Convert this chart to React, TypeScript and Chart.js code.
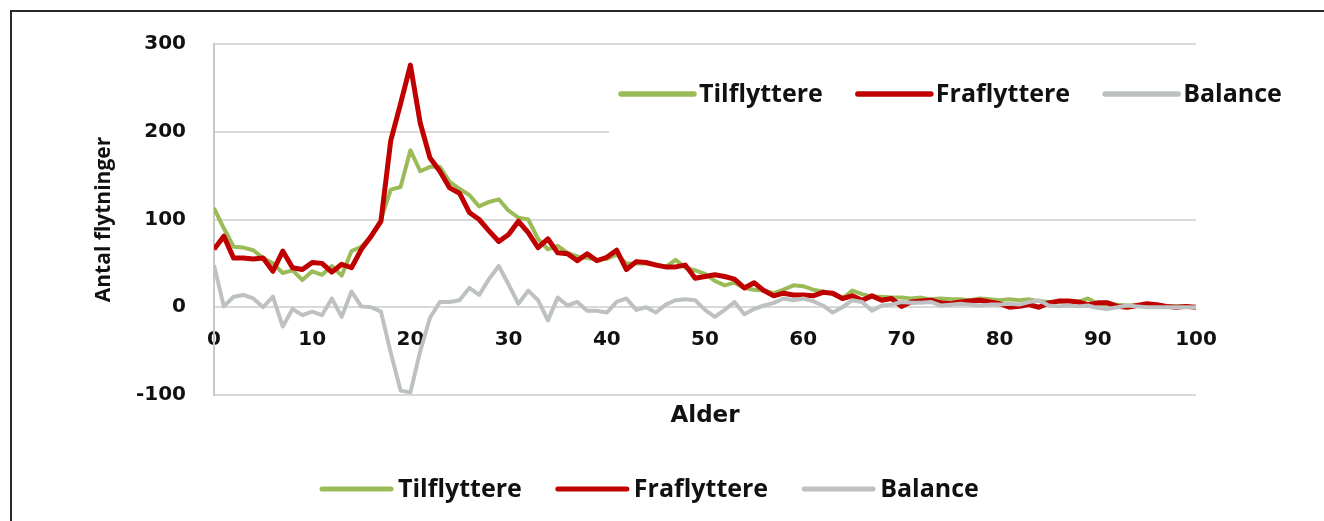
import React, { useEffect, useRef } from "react";
import { Chart, registerables } from "chart.js";

Chart.register(...registerables);

const ages: number[] = Array.from({ length: 101 }, (_, i) => i);

const tilflyttere: number[] = [
  113, 90, 69, 68, 65, 56, 50, 39, 42, 31, 41, 37, 47, 36, 64, 69, 80, 100, 134, 137,
  179, 155, 160, 160, 143, 135, 128, 115, 120, 123, 110, 102, 100, 78, 66, 70, 62, 58, 56, 54,
  55, 60, 50, 50, 50, 49, 46, 54, 45, 42, 38, 30, 25, 28, 22, 20, 19, 16, 20, 25,
  24, 20, 18, 15, 10, 19, 15, 12, 12, 11, 11, 10, 11, 9, 10, 9, 9, 8, 10, 9,
  8, 9, 8, 9, 7, 6, 6, 7, 6, 10, 4, 3, 3, 2, 2, 2, 2, 1, 1, 1, 0,
];

const fraflyttere: number[] = [
  66, 81, 56, 56, 55, 56, 41, 64, 45, 43, 51, 50, 40, 49, 45, 66, 81, 98, 190, 232,
  276, 210, 170, 155, 136, 130, 108, 100, 87, 75, 83, 98, 85, 68, 78, 62, 61, 53, 61, 53,
  57, 65, 43, 52, 51, 48, 46, 46, 48, 33, 35, 37, 35, 32, 22, 28, 19, 13, 16, 14,
  14, 13, 17, 16, 10, 13, 8, 13, 8, 10, 1, 6, 7, 8, 5, 4, 6, 7, 8, 6,
  4, 0, 1, 3, 0, 5, 7, 7, 6, 3, 5, 5, 1, 0, 2, 4, 3, 1, 0, 1, 0,
];

const balance: number[] = [
  48, 1, 12, 14, 10, 0, 12, -22, -2, -9, -5, -9, 10, -11, 18, 1, 0, -5, -52, -95,
  -97, -50, -12, 6, 6, 8, 22, 14, 32, 47, 26, 4, 19, 8, -15, 11, 2, 6, -4, -4,
  -6, 6, 10, -3, 0, -6, 3, 8, 9, 8, -3, -11, -3, 6, -8, -2, 2, 5, 10, 8,
  10, 7, 2, -6, 0, 8, 6, -4, 2, 3, 6, 5, 5, 6, 2, 3, 4, 3, 2, 3,
  3, 4, 3, 6, 8, 2, 1, 2, 1, 2, -1, -2, 0, 2, 1, 0, 0, 0, 0, 0, 0,
];

const seriesNames = ["Tilflyttere", "Fraflyttere", "Balance"];
const seriesColors = ["#9BBB59", "#C00000", "#BDC1C1"];
const yTitle = "Antal flytninger";
const xTitle = "Alder";

const TICK_FONT = "'DejaVu Sans', sans-serif";
const LEGEND_FONT = "'Open Sans', sans-serif";

const legendPlugin = {
  id: "customLegends",
  beforeDatasetsDraw(chart: any) {
    const ctx = chart.ctx;
    ctx.save();
    ctx.fillStyle = "#ffffff";
    ctx.fillRect(609, 56, 600, 82);
    ctx.restore();
  },
  afterDraw(chart: any) {
    const ctx = chart.ctx;
    const drawLegend = (startX: number, y: number, lineLen: number, gap: number, spacing: number, lw: number, fontSize: number) => {
      let x = startX;
      ctx.save();
      ctx.font = `bold ${fontSize}px ${LEGEND_FONT}`;
      ctx.textBaseline = "middle";
      ctx.textAlign = "left";
      chart.data.datasets.forEach((ds: any) => {
        ctx.strokeStyle = ds.borderColor;
        ctx.lineWidth = lw;
        ctx.lineCap = "round";
        ctx.beginPath();
        ctx.moveTo(x, y);
        ctx.lineTo(x + lineLen, y);
        ctx.stroke();
        x += lineLen + gap;
        ctx.fillStyle = "#111111";
        ctx.fillText(ds.label, x, y + 1);
        x += ctx.measureText(ds.label).width + spacing;
      });
      ctx.restore();
    };
    drawLegend(621, 94, 73, 5, 35, 5.5, 25);
    drawLegend(322, 489, 69, 7, 36, 5, 25);
  },
};

export default function App() {
  const canvasRef = useRef<HTMLCanvasElement | null>(null);

  useEffect(() => {
    if (!canvasRef.current) return;
    const chart = new Chart(canvasRef.current, {
      type: "line",
      data: {
        labels: ages,
        datasets: seriesNames.map((name, i) => ({
          label: name,
          data: [tilflyttere, fraflyttere, balance][i],
          borderColor: seriesColors[i],
          backgroundColor: seriesColors[i],
          borderWidth: i === 1 ? 5 : 4,
          pointRadius: 0,
          tension: 0,
          fill: false,
          order: 3 - i,
          borderJoinStyle: "round" as const,
        })),
      },
      options: {
        responsive: false,
        animation: false,
        events: [],
        layout: { padding: { left: 0, top: 44, right: 128, bottom: 126 } },
        plugins: {
          legend: { display: false },
          tooltip: { enabled: false },
        },
        scales: {
          x: {
            type: "linear",
            min: 0,
            max: 100,
            position: { y: 0 } as any,
            afterFit: (scale: any) => {
              scale.height = 123;
            },
            grid: { display: false, drawTicks: false },
            border: { display: false },
            ticks: {
              stepSize: 10,
              padding: 21,
              color: "#111111",
              font: { family: TICK_FONT, size: 20, weight: "bold" },
              maxRotation: 0,
            },
            title: {
              display: true,
              text: xTitle,
              color: "#111111",
              font: { family: TICK_FONT, size: 23, weight: "bold" },
              padding: { top: 0, bottom: 0 },
            },
          },
          y: {
            type: "linear",
            min: -100,
            max: 300,
            afterFit: (scale: any) => {
              scale.width = 214;
            },
            grid: { color: "#D9D9D9", lineWidth: 2, drawTicks: false },
            border: { display: true, color: "#C8C8C8", width: 2 },
            ticks: {
              stepSize: 100,
              padding: 28,
              color: "#111111",
              font: { family: TICK_FONT, size: 20, weight: "bold" },
            },
            title: {
              display: true,
              text: yTitle,
              color: "#111111",
              font: { family: LEGEND_FONT, size: 21, weight: "bold" },
              padding: { top: 91, bottom: 0 },
            },
          },
        },
      },
      plugins: [legendPlugin],
    });
    return () => chart.destroy();
  }, []);

  return (
    <div style={{ position: "absolute", left: 0, top: 0, width: 1324, height: 521, overflow: "hidden", background: "#fff" }}>
      <canvas ref={canvasRef} width={1324} height={521} style={{ position: "absolute", left: 0, top: 0 }} />
      <div
        style={{
          position: "absolute",
          left: 10,
          top: 10,
          width: 1330,
          height: 530,
          borderLeft: "2px solid #2a2a2a",
          borderTop: "2px solid #2a2a2a",
          pointerEvents: "none",
        }}
      />
    </div>
  );
}
